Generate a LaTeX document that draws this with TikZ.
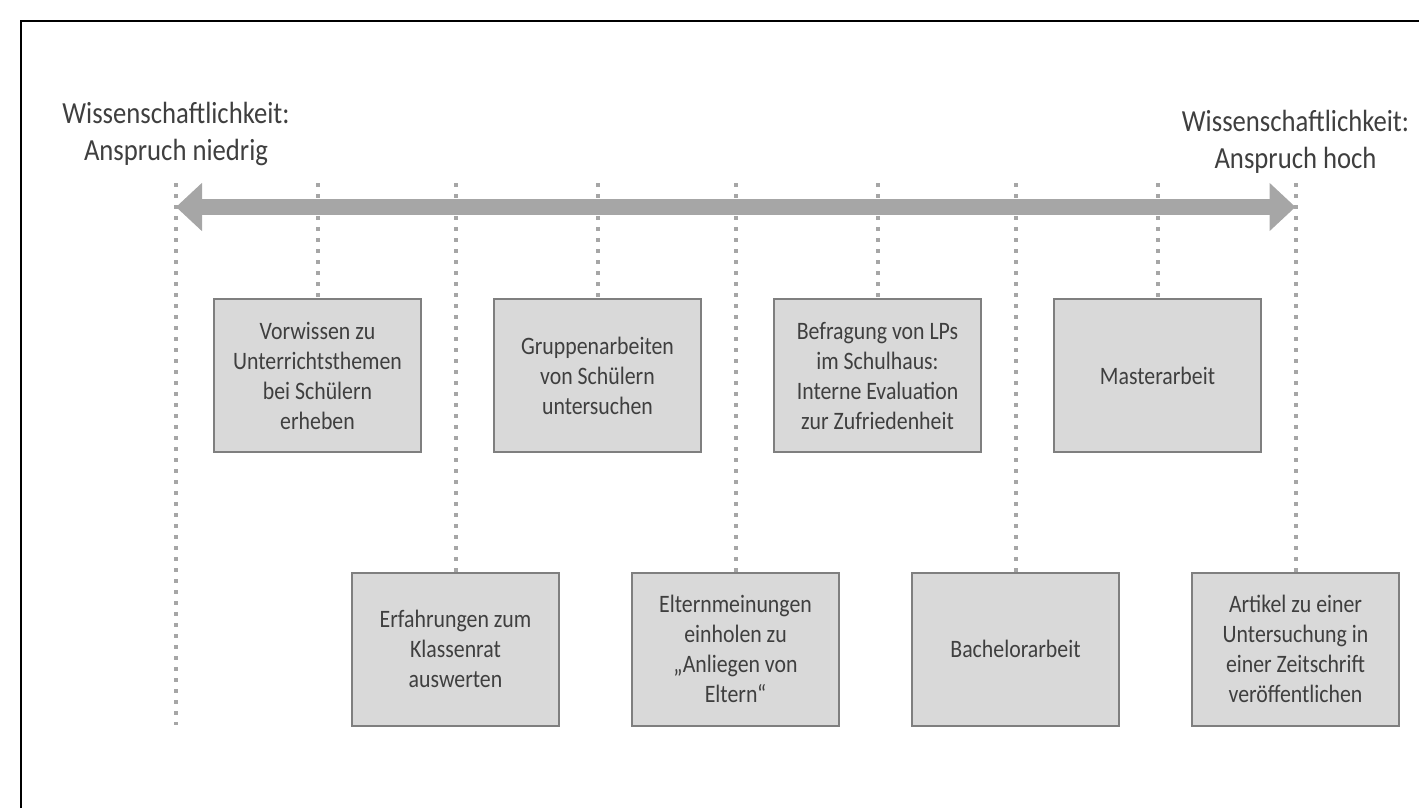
\documentclass[tikz,border=0pt]{standalone}
\usepackage{fontspec}
\setmainfont{Carlito}[FakeStretch=0.87]
\usetikzlibrary{positioning, arrows.meta}
\definecolor{boxfill}{HTML}{D9D9D9}
\definecolor{boxline}{HTML}{7F7F7F}
\definecolor{axisgray}{HTML}{A6A6A6}
\definecolor{textmain}{HTML}{3F3F3F}

\begin{document}
\begin{tikzpicture}[
    x=0.75pt, y=-0.75pt,
    node distance=53.25pt,
    task/.style={rectangle, draw=boxline, line width=1.5pt, fill=boxfill, text=textmain,
                 minimum width=155.25pt, minimum height=114.75pt, inner sep=2pt,
                 align=center, font=\fontsize{18.8}{22.5}\selectfont},
    pole/.style={align=center, text=textmain, font=\fontsize{23}{27.5}\selectfont},
    guide/.style={axisgray, line width=3pt, dash pattern=on 3pt off 5.25pt},
    axis/.style={{Triangle[length=19.5pt,width=35pt]}-{Triangle[length=19.5pt,width=35pt]},
                 axisgray, line width=12.5pt}
  ]
  \useasboundingbox (0,0) rectangle (1419,808);
  \draw[line width=1.5pt] (21,808) -- (21,21) -- (1419,21);

  \node[task] (vorwissen) at (317.5,375.5) {Vorwissen zu\\Unterrichtsthemen\\bei Schülern\\erheben};
  \node[task, right=of vorwissen] (gruppen) {Gruppenarbeiten\\von Schülern\\untersuchen};
  \node[task, right=of gruppen] (befragung) {Befragung von LPs\\im Schulhaus:\\Interne Evaluation\\zur Zufriedenheit};
  \node[task, right=of befragung] (master) {Masterarbeit};

  \node[task] (erfahrungen) at (455.5,649) {Erfahrungen zum\\Klassenrat\\auswerten};
  \node[task, right=of erfahrungen] (eltern) {Elternmeinungen\\einholen zu\\„Anliegen von\\Eltern“};
  \node[task, right=of eltern] (bachelor) {Bachelorarbeit};
  \node[task, right=of bachelor] (artikel) {Artikel zu einer\\Untersuchung in\\einer Zeitschrift\\veröffentlichen};

  \coordinate (rail) at (0,183);
  \coordinate (low) at (176,207);
  \coordinate (high) at (artikel.north |- low);
  \coordinate (lowfoot) at (176,725);

  \node[pole] (niedrig) at (176,134) {Wissenschaftlichkeit:\\Anspruch niedrig};
  \node[pole] (hoch) at (high |- 0,142) {Wissenschaftlichkeit:\\Anspruch hoch};

  \draw[guide] (low |- rail) -- (lowfoot);
  \foreach \n in {vorwissen, gruppen, befragung, master, erfahrungen, eltern, bachelor, artikel}
    \draw[guide] (\n.north |- rail) -- (\n.north);

  \draw[axis] (low) -- (high);
\end{tikzpicture}
\end{document}
